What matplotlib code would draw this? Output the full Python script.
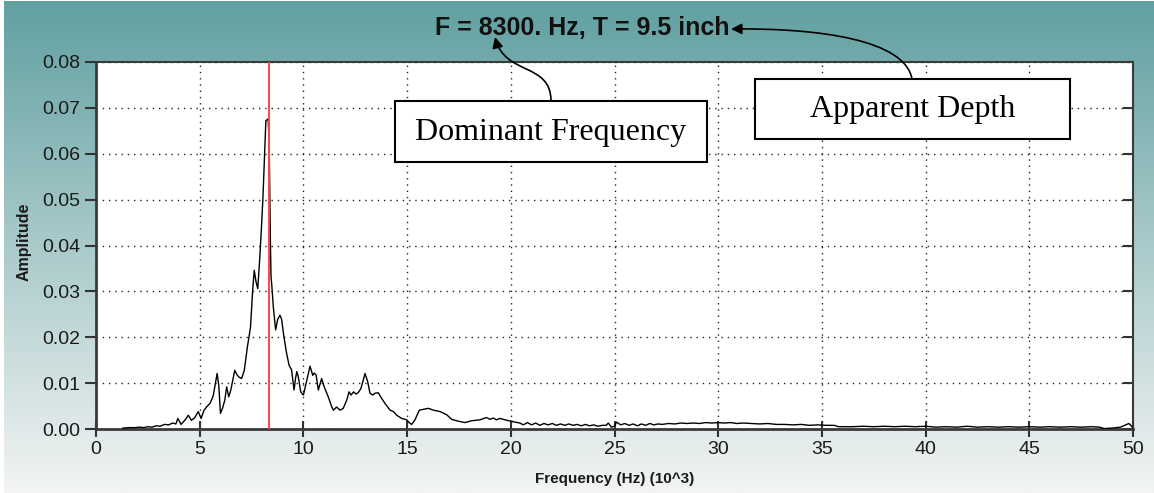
import numpy as np
import matplotlib
matplotlib.use("Agg")
import matplotlib.pyplot as plt
from matplotlib.patches import Rectangle, FancyArrowPatch
from matplotlib.path import Path

# ---------------- data ----------------
freq_khz = [1.3, 1.6, 1.9, 2.1, 2.3, 2.5, 2.7, 2.9, 3.1, 3.3, 3.5, 3.7, 3.85, 3.95,
            4.1, 4.3, 4.45, 4.6, 4.75, 4.93, 5.07, 5.2, 5.33, 5.5, 5.65, 5.84, 5.92,
            6.0, 6.1, 6.21, 6.3, 6.4, 6.5, 6.69, 6.8, 6.9, 7.02, 7.15, 7.3, 7.45,
            7.55, 7.63, 7.72, 7.8, 7.9, 7.97, 8.05, 8.13, 8.19, 8.3, 8.35, 8.38,
            8.41, 8.44, 8.47, 8.55, 8.66, 8.76, 8.87, 8.95, 9.06, 9.19, 9.31, 9.43,
            9.55, 9.62, 9.68, 9.75, 9.87, 10.0, 10.13, 10.32, 10.45, 10.52, 10.61,
            10.72, 10.88, 11.0, 11.2, 11.36, 11.45, 11.6, 11.77, 11.92, 12.09, 12.2,
            12.3, 12.42, 12.54, 12.65, 12.77, 12.89, 12.97, 13.1, 13.21, 13.34,
            13.45, 13.61, 13.77, 13.93, 14.18, 14.34, 14.5, 14.74, 14.98, 15.1,
            15.22, 15.38, 15.59, 15.79, 16.03, 16.27, 16.59, 16.91, 17.15, 17.47,
            17.79, 18.11, 18.51, 18.7, 18.83, 19.0, 19.15, 19.3, 19.48, 19.8, 20.04,
            20.2, 20.44, 20.6, 20.8, 21.0, 21.2, 21.4, 21.6, 21.8, 22.0, 22.2, 22.4,
            22.6, 22.8, 23.0, 23.2, 23.4, 23.6, 23.8, 24.0, 24.2, 24.4, 24.6, 24.7,
            24.85, 25.0, 25.1, 25.3, 25.5, 25.7, 25.9, 26.1, 26.3, 26.5, 26.7, 26.9,
            27.1, 27.3, 27.6, 27.9, 28.2, 28.5, 28.8, 29.1, 29.4, 29.7, 30.0, 30.3,
            30.6, 30.9, 31.2, 31.6, 32.0, 32.4, 32.8, 33.2, 33.6, 34.0, 34.4, 34.8,
            35.2, 35.6, 35.8, 36.5, 37.0, 37.5, 38.0, 38.5, 39.0, 39.5, 40.0, 40.5,
            41.0, 41.5, 42.0, 42.5, 43.0, 43.5, 44.0, 44.5, 45.0, 45.5, 46.0, 46.5,
            47.0, 47.5, 48.0, 48.4, 48.6, 49.0, 49.4, 49.8, 50.0]
amplitude = [0.0002, 0.0003, 0.0003, 0.0004, 0.0003, 0.0005, 0.0004, 0.0007, 0.0006,
             0.0010, 0.0009, 0.0013, 0.0011, 0.0023, 0.0010, 0.0020, 0.0030, 0.0019,
             0.0024, 0.0038, 0.0023, 0.0040, 0.0048, 0.0056, 0.0072, 0.0121, 0.0095,
             0.0034, 0.0045, 0.0063, 0.0092, 0.0070, 0.0085, 0.0128, 0.0118, 0.0113,
             0.0110, 0.0128, 0.0179, 0.0222, 0.0300, 0.0346, 0.0320, 0.0306, 0.0375,
             0.0433, 0.0505, 0.0600, 0.0672, 0.0676, 0.0625, 0.0520, 0.0404, 0.0330,
             0.0317, 0.0266, 0.0216, 0.0239, 0.0248, 0.0239, 0.0201, 0.0165, 0.0139,
             0.0129, 0.0085, 0.0110, 0.0125, 0.0115, 0.0081, 0.0074, 0.0100, 0.0137,
             0.0117, 0.0122, 0.0118, 0.0085, 0.0110, 0.0092, 0.0070, 0.0049, 0.0041,
             0.0048, 0.0041, 0.0045, 0.0063, 0.0081, 0.0074, 0.0081, 0.0076, 0.0080,
             0.0088, 0.0107, 0.0121, 0.0103, 0.0078, 0.0074, 0.0078, 0.0079, 0.0067,
             0.0056, 0.0041, 0.0038, 0.0030, 0.0023, 0.0020, 0.0014, 0.0010, 0.0020,
             0.0041, 0.0043, 0.0045, 0.0041, 0.0038, 0.0031, 0.0021, 0.0017, 0.0014,
             0.0018, 0.0020, 0.0023, 0.0025, 0.0021, 0.0024, 0.0020, 0.0023, 0.0019,
             0.0017, 0.0015, 0.0013, 0.0009, 0.0014, 0.0009, 0.0013, 0.0008, 0.0012,
             0.0009, 0.0012, 0.0008, 0.0011, 0.0008, 0.0011, 0.0008, 0.0010, 0.0007,
             0.0010, 0.0007, 0.0009, 0.0006, 0.0008, 0.0008, 0.0013, 0.0004, 0.0006,
             0.0015, 0.0009, 0.0012, 0.0008, 0.0011, 0.0007, 0.0011, 0.0008, 0.0012,
             0.0009, 0.0011, 0.0010, 0.0012, 0.0011, 0.0013, 0.0012, 0.0013, 0.0012,
             0.0014, 0.0013, 0.0014, 0.0013, 0.0014, 0.0012, 0.0013, 0.0012, 0.0011,
             0.0012, 0.0010, 0.0010, 0.0009, 0.0010, 0.0008, 0.0009, 0.0008, 0.0008,
             0.0005, 0.0005, 0.0006, 0.0005, 0.0006, 0.0005, 0.0006, 0.0005, 0.0006,
             0.0004, 0.0005, 0.0004, 0.0006, 0.0004, 0.0005, 0.0004, 0.0005, 0.0004,
             0.0005, 0.0004, 0.0005, 0.0004, 0.0005, 0.0004, 0.0005, 0.0004, 0.0001,
             0.0002, 0.0004, 0.0012, 0.0003]
dominant_khz = 8.35
x_ticks = [0, 5, 10, 15, 20, 25, 30, 35, 40, 45, 50]
y_ticks = [0.00, 0.01, 0.02, 0.03, 0.04, 0.05, 0.06, 0.07, 0.08]
title_text = "F = 8300. Hz, T = 9.5 inch"
xlabel_text = "Frequency (Hz) (10^3)"
ylabel_text = "Amplitude"
box1_text = "Dominant Frequency"
box2_text = "Apparent Depth"

# ---------------- figure ----------------
W, H = 1154, 493
fig = plt.figure(figsize=(W / 100, H / 100), dpi=100)
fig.patch.set_facecolor("white")

def fx(p):
    return p / W

def fy(p):
    return 1 - p / H

# gradient background
bg = fig.add_axes([0, 0, 1, 1], zorder=-10)
bg.axis("off")
top = np.array([97, 160, 161]) / 255
bot = np.array([243, 244, 244]) / 255
t = np.linspace(0, 1, 256)[:, None]
grad = (top[None, :] * (1 - t) + bot[None, :] * t)[:, None, :]
bg.imshow(grad, aspect="auto", extent=[fx(4), 1, 0, fy(1)], origin="upper")
bg.set_xlim(0, 1)
bg.set_ylim(0, 1)

sans = "Liberation Sans"
serif = "Liberation Serif"

ax = fig.add_axes([fx(96), fy(429), fx(1133) - fx(96), fy(62) - fy(429)])
ax.set_facecolor("white")
ax.plot(freq_khz, amplitude, color="black", lw=1.0, zorder=3)
ax.axvline(dominant_khz, color="#ff4444", lw=1.4, zorder=4)
ax.set_xlim(0, 50)
ax.set_ylim(0, 0.08)
ax.set_xticks(x_ticks)
ax.set_yticks(y_ticks)
ax.set_xticklabels([str(v) for v in x_ticks], fontfamily=sans, fontsize=14, color="#1a1a1a")
ax.set_yticklabels([f"{v:.2f}" for v in y_ticks], fontfamily=sans, fontsize=14, color="#1a1a1a")
ax.grid(True, color="#222222", linestyle=(0, (1, 3.5)), lw=1.0)
ax.tick_params(axis="x", direction="inout", length=12, width=1.5, color="#333333", pad=3)
ax.tick_params(axis="y", which="both", direction="out", length=8, width=1.5,
               color="#333333", pad=3, right=True)
for tl in ax.yaxis.get_major_ticks():
    tl.tick2line.set_marker(matplotlib.lines.TICKLEFT)
    tl.tick2line.set_markersize(7)
for sp in ax.spines.values():
    sp.set_color("#3a3a3a")
    sp.set_linewidth(1.5)
ax.spines["left"].set_linewidth(2)
ax.spines["bottom"].set_linewidth(2)

fig.text(fx(615), fy(479), xlabel_text, ha="center", va="center",
         fontfamily=sans, fontsize=11, fontweight="bold", color="#1a1a1a")
fig.text(fx(24), fy(242), ylabel_text, ha="center", va="center", rotation=90,
         fontfamily=sans, fontsize=11.5, fontweight="bold", color="#1a1a1a")
fig.text(fx(582), fy(28), title_text, ha="center", va="center",
         fontfamily=sans, fontsize=18, fontweight="bold", color="#111111")

# annotation boxes
for (x0, y0, x1, y1, txt) in [(395, 101, 707, 162, box1_text), (755, 79, 1070, 139, box2_text)]:
    r = Rectangle((fx(x0), fy(y1)), fx(x1) - fx(x0), fy(y0) - fy(y1),
                  transform=fig.transFigure, facecolor="white", edgecolor="black",
                  lw=1.5, zorder=5)
    fig.patches.append(r)
    fig.text(fx((x0 + x1) / 2), fy((y0 + y1) / 2 + 1), txt, ha="center", va="center",
             fontfamily=serif, fontsize=23, color="black", zorder=6)

# curved arrows
def arrow(pts):
    verts = [(fx(a), fy(b)) for a, b in pts]
    path = Path(verts, [Path.MOVETO, Path.CURVE4, Path.CURVE4, Path.CURVE4])
    p = FancyArrowPatch(path=path, arrowstyle="-|>", mutation_scale=16, lw=1.2,
                        color="black", transform=fig.transFigure, zorder=7)
    fig.patches.append(p)

arrow([(551, 101), (551, 62), (505, 76), (495, 37)])
arrow([(912, 79), (905, 40), (820, 28), (731, 29)])

fig.savefig("out.png", dpi=100)
